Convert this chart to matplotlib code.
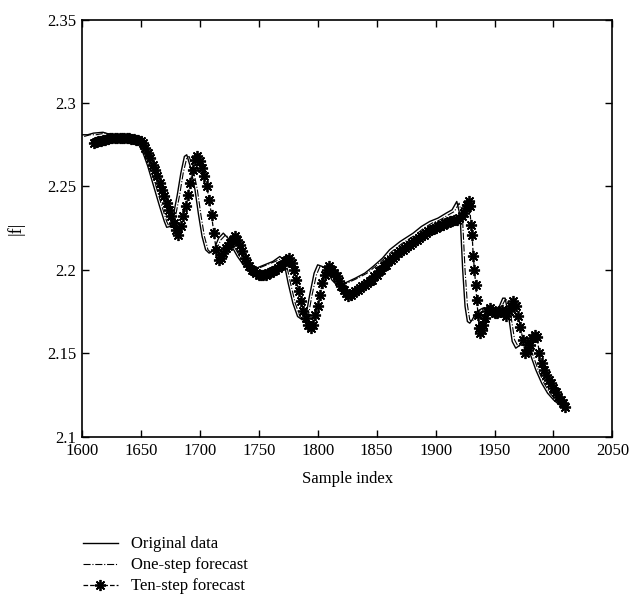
import numpy as np
import matplotlib
matplotlib.use("Agg")
import matplotlib.pyplot as plt
from matplotlib.lines import Line2D

# ---- series values -------------------------------------------------------
original_idx = [1600, 1605, 1610, 1618, 1625, 1635, 1645, 1648, 1652, 1656,
                1661, 1666, 1670, 1672, 1675, 1678, 1681, 1684, 1687, 1689,
                1692, 1696, 1699, 1702, 1705, 1708, 1712, 1716, 1720, 1724,
                1728, 1732, 1737, 1742, 1748, 1755, 1762, 1768, 1771, 1775,
                1779, 1783, 1787, 1790, 1793, 1797, 1800, 1804, 1808, 1812,
                1816, 1820, 1826, 1832, 1840, 1847, 1855, 1861, 1870, 1881,
                1888, 1895, 1902, 1909, 1914, 1918, 1920, 1921, 1923, 1925,
                1927, 1929, 1931, 1935, 1940, 1945, 1950, 1954, 1957, 1959,
                1962, 1965, 1968, 1972, 1976, 1980, 1985, 1990, 1995, 2000,
                2005, 2008]
original_val = [2.281, 2.281, 2.282, 2.2825, 2.281, 2.281, 2.280, 2.278, 2.270, 2.262,
                2.250, 2.238, 2.229, 2.2255, 2.226, 2.234, 2.245, 2.258, 2.268, 2.269,
                2.262, 2.248, 2.233, 2.220, 2.212, 2.210, 2.212, 2.219, 2.222, 2.219,
                2.213, 2.208, 2.203, 2.201, 2.201, 2.203, 2.205, 2.208, 2.206, 2.192,
                2.180, 2.172, 2.170, 2.172, 2.184, 2.198, 2.203, 2.202, 2.200, 2.194,
                2.191, 2.191, 2.193, 2.195, 2.198, 2.202, 2.207, 2.212, 2.217, 2.222,
                2.226, 2.229, 2.231, 2.234, 2.236, 2.241, 2.235, 2.230, 2.200, 2.178,
                2.169, 2.168, 2.170, 2.175, 2.177, 2.176, 2.176, 2.178, 2.183, 2.183,
                2.172, 2.157, 2.153, 2.155, 2.155, 2.150, 2.140, 2.132, 2.126, 2.122,
                2.119, 2.118]

onestep_idx = [1602, 1607, 1612, 1620, 1627, 1637, 1647, 1650, 1654, 1658,
               1663, 1668, 1672, 1674, 1677, 1680, 1683, 1686, 1689, 1691,
               1694, 1698, 1701, 1704, 1707, 1710, 1714, 1718, 1722, 1726,
               1730, 1734, 1739, 1744, 1750, 1757, 1764, 1770, 1773, 1777,
               1781, 1785, 1789, 1792, 1795, 1799, 1802, 1806, 1810, 1814,
               1818, 1822, 1828, 1834, 1842, 1849, 1857, 1863, 1872, 1883,
               1890, 1897, 1904, 1911, 1916, 1920, 1922, 1923, 1925, 1927,
               1929, 1931, 1933, 1937, 1942, 1947, 1952, 1956, 1959, 1961,
               1964, 1967, 1970, 1974, 1978, 1982, 1987, 1992, 1997, 2002,
               2007, 2009]
onestep_val = [2.280, 2.281, 2.281, 2.282, 2.281, 2.281, 2.280, 2.278, 2.270, 2.262,
               2.250, 2.238, 2.229, 2.226, 2.227, 2.234, 2.245, 2.258, 2.267, 2.268,
               2.262, 2.248, 2.233, 2.220, 2.212, 2.210, 2.212, 2.218, 2.221, 2.218,
               2.213, 2.208, 2.203, 2.201, 2.201, 2.203, 2.205, 2.207, 2.205, 2.192,
               2.180, 2.172, 2.170, 2.172, 2.184, 2.197, 2.202, 2.201, 2.199, 2.194,
               2.191, 2.191, 2.193, 2.195, 2.198, 2.202, 2.207, 2.211, 2.216, 2.221,
               2.225, 2.228, 2.230, 2.233, 2.235, 2.240, 2.234, 2.229, 2.200, 2.179,
               2.170, 2.169, 2.171, 2.175, 2.177, 2.176, 2.176, 2.178, 2.182, 2.182,
               2.172, 2.158, 2.154, 2.155, 2.155, 2.150, 2.140, 2.132, 2.126, 2.122,
               2.119, 2.118]

tenstep_idx = list(range(1610, 1927, 2)) + list(range(1927, 1940)) + list(range(1940, 2011, 2))
tenstep_val = [
    2.276, 2.2765, 2.277, 2.2775, 2.278, 2.278, 2.2785, 2.279, 2.279, 2.279,    # 1610-1628
    2.279, 2.279, 2.279, 2.279, 2.279, 2.279, 2.2785, 2.2785, 2.278, 2.278,     # 1630-1648
    2.277, 2.276, 2.273, 2.270, 2.267, 2.263, 2.260, 2.256, 2.252, 2.248,       # 1650-1668
    2.244, 2.240, 2.236, 2.232, 2.228, 2.224, 2.221, 2.226, 2.232, 2.238,       # 1670-1688
    2.245, 2.252, 2.260, 2.266, 2.268, 2.265, 2.261, 2.256, 2.250, 2.242,       # 1690-1708
    2.233, 2.222, 2.212, 2.206, 2.207, 2.210, 2.213, 2.214, 2.216, 2.218,       # 1710-1728
    2.220, 2.218, 2.215, 2.211, 2.207, 2.204, 2.202, 2.200, 2.199, 2.198,       # 1730-1748
    2.197, 2.197, 2.197, 2.197, 2.198, 2.198, 2.199, 2.200, 2.201, 2.202,       # 1750-1768
    2.203, 2.205, 2.206, 2.207, 2.204, 2.200, 2.194, 2.187, 2.181, 2.175,       # 1770-1788
    2.171, 2.167, 2.165, 2.167, 2.173, 2.178, 2.185, 2.192, 2.197, 2.200,       # 1790-1808
    2.202, 2.200, 2.198, 2.196, 2.193, 2.190, 2.188, 2.186, 2.184, 2.185,       # 1810-1828
    2.186, 2.187, 2.188, 2.189, 2.190, 2.191, 2.192, 2.193, 2.194, 2.196,       # 1830-1848
    2.197, 2.199, 2.200, 2.202, 2.203, 2.205, 2.206, 2.207, 2.208, 2.210,       # 1850-1868
    2.211, 2.212, 2.213, 2.214, 2.215, 2.216, 2.217, 2.218, 2.219, 2.220,       # 1870-1888
    2.221, 2.222, 2.223, 2.224, 2.2245, 2.225, 2.226, 2.226, 2.227, 2.228,      # 1890-1908
    2.228, 2.229, 2.229, 2.230, 2.230, 2.231, 2.232, 2.234, 2.237,              # 1910-1926
    2.239, 2.241, 2.238, 2.227, 2.221, 2.208, 2.200, 2.191, 2.182, 2.173,       # 1927-1936
    2.165, 2.162, 2.164,                                                        # 1937-1939
    2.167, 2.171, 2.175, 2.177, 2.176, 2.174, 2.174, 2.175, 2.176, 2.174,       # 1940-1958
    2.172, 2.175, 2.178, 2.181, 2.178, 2.172, 2.166, 2.158, 2.150, 2.152,       # 1960-1978
    2.155, 2.159, 2.161, 2.160, 2.150, 2.144, 2.140, 2.137, 2.134, 2.132,       # 1980-1998
    2.129, 2.127, 2.124, 2.122, 2.120, 2.118,                                   # 2000-2010
]

x_ticks = [1600, 1650, 1700, 1750, 1800, 1850, 1900, 1950, 2000, 2050]
y_ticks = [2.1, 2.15, 2.2, 2.25, 2.3, 2.35]
y_tick_labels = ["2.1", "2.15", "2.2", "2.25", "2.3", "2.35"]
legend_labels = ["Original data", "One-step forecast", "Ten-step forecast"]

# ---- figure --------------------------------------------------------------
plt.rcParams["font.family"] = ["Liberation Serif", "DejaVu Serif"]
plt.rcParams["font.size"] = 12

ASTERISK = (8, 2, 0)   # eight-armed asterisk marker

fig = plt.figure(figsize=(6.34, 5.98), dpi=100)
ax = fig.add_axes([0.129, 0.27, 0.837, 0.697])

ax.plot(tenstep_idx, tenstep_val, color="black", linestyle="--", linewidth=0.9,
        marker=ASTERISK, markersize=8, markeredgewidth=1.3, zorder=2)
ax.plot(onestep_idx, onestep_val, color="black", linestyle="-.", linewidth=0.8, zorder=3)
ax.plot(original_idx, original_val, color="black", linestyle="-", linewidth=1.0, zorder=4)

ax.set_xlim(1600, 2050)
ax.set_ylim(2.1, 2.35)
ax.set_xticks(x_ticks)
ax.set_yticks(y_ticks)
ax.set_yticklabels(y_tick_labels)
ax.tick_params(direction="in", top=True, right=True, length=5, width=1.0)
ax.tick_params(axis="x", pad=5)
ax.tick_params(axis="y", pad=4)
for s in ax.spines.values():
    s.set_linewidth(1.2)

ax.set_xlabel("Sample index", labelpad=8)
ax.set_ylabel("|f|", labelpad=16, fontsize=13)

handles = [
    Line2D([], [], color="black", linestyle="-", linewidth=1.0),
    Line2D([], [], color="black", linestyle="-.", linewidth=0.8),
    Line2D([], [], color="black", linestyle="--", linewidth=0.9, marker=ASTERISK,
           markersize=8, markeredgewidth=1.3),
]
fig.legend(handles, legend_labels, loc="upper left", bbox_to_anchor=(0.117, 0.117),
           frameon=False, handlelength=2.1, handletextpad=0.8, labelspacing=0.3,
           borderpad=0.0)

fig.savefig("out.png", dpi=100)
